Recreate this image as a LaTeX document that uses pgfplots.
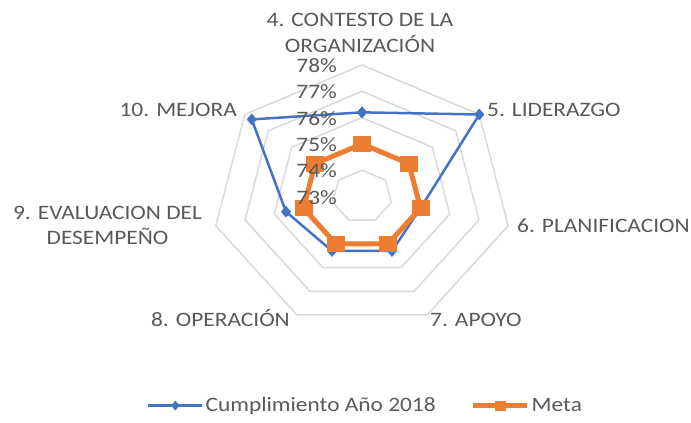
\documentclass[border=0pt]{standalone}
\usepackage{pgfplots}
\pgfplotsset{compat=1.18}
\usepackage{pgfplotstable}
\usepackage{fontspec}
\setmainfont{Carlito}[FakeStretch=1.14]
\definecolor{cblue}{HTML}{4472C4}
\definecolor{corange}{HTML}{ED7D31}
\definecolor{ctext}{HTML}{595959}
\definecolor{cgrid}{HTML}{D9D9D9}

% angle (deg, clockwise from top) and value (%)
\pgfplotstableread{
a v
0 76.2
51.4286 78.0
102.8571 75.0
154.2857 75.3
205.7143 75.3
257.1429 75.6
308.5714 77.7
360 76.2
}\cumpl
\pgfplotstableread{
a v
0 75
51.4286 75
102.8571 75
154.2857 75
205.7143 75
257.1429 75
308.5714 75
360 75
}\meta

\newcommand{\lbl}{\fontsize{20.5}{27}\selectfont}

\begin{document}
\begin{tikzpicture}[x=1pt,y=1pt]
\useasboundingbox (0,0) rectangle (691,423);
\begin{axis}[
  at={(362pt,226.5pt)}, anchor=center,
  x=30pt, y=26.3pt,
  xmin=-12, xmax=12, ymin=-9, ymax=9,
  hide axis, clip=false,
  legend columns=2,
  legend cell align=left,
  legend style={draw=none, fill=none, at={(axis cs:-7.17,-7.95)}, anchor=west,
    inner sep=0pt, text=ctext, font=\lbl,
    /tikz/every even column/.append style={column sep=33pt}},
  legend image code/.code={\draw[mark repeat=2,mark phase=2] plot coordinates {(0pt,0pt) (27pt,0pt) (54pt,0pt)};},
]
\pgfplotsinvokeforeach{74,75,76,77,78}{
  \addplot[cgrid, line width=1.5pt, line join=miter, forget plot]
    table[x expr={(#1-73)*sin(\thisrow{a})}, y expr={(#1-73)*cos(\thisrow{a})}] {\cumpl};
}
\addplot[cblue, line width=2.5pt, line join=round, mark=diamond*, mark size=5.5pt, mark options={xscale=1.14, line width=0.5pt}, forget plot]
  table[x expr={(\thisrow{v}-73)*sin(\thisrow{a})}, y expr={(\thisrow{v}-73)*cos(\thisrow{a})}] {\cumpl};
\addplot[corange, line width=5pt, line join=round, mark=square*, mark size=7.5pt, mark options={xscale=1.14, line width=0.5pt}, forget plot]
  table[x expr={(\thisrow{v}-73)*sin(\thisrow{a})}, y expr={(\thisrow{v}-73)*cos(\thisrow{a})}] {\meta};
\addlegendimage{cblue, line width=2.5pt, mark=diamond*, mark size=4.5pt, mark options={xscale=1.14, line width=0.5pt}}
\addlegendentry{Cumplimiento Año 2018}
\addlegendimage{corange, line width=5pt, mark=square*, mark size=4.5pt, mark options={xscale=1.14, line width=0.5pt}}
\addlegendentry{Meta}
\end{axis}

\begin{scope}[every node/.style={text=ctext, font=\lbl, inner sep=0pt}]
% radial tick labels
\node[anchor=base east] at (337,350.4) {78\%};
\node[anchor=base east] at (337,324.1) {77\%};
\node[anchor=base east] at (337,297.8) {76\%};
\node[anchor=base east] at (337,271.5) {75\%};
\node[anchor=base east] at (337,245.2) {74\%};
\node[anchor=base east] at (337,218.9) {73\%};
% category labels
\node[anchor=base] at (360,396) {4. CONTESTO DE LA};
\node[anchor=base] at (360,370) {ORGANIZACIÓN};
\node[anchor=base west] at (487,306) {5. LIDERAZGO};
\node[anchor=base west] at (517,190) {6. PLANIFICACION};
\node[anchor=base west] at (430,96) {7. APOYO};
\node[anchor=base east] at (290,96) {8. OPERACIÓN};
\node[anchor=base] at (107.5,203) {9. EVALUACION DEL};
\node[anchor=base] at (107.5,178) {DESEMPEÑO};
\node[anchor=base east] at (237,306.4) {10. MEJORA};
\end{scope}
\end{tikzpicture}
\end{document}
